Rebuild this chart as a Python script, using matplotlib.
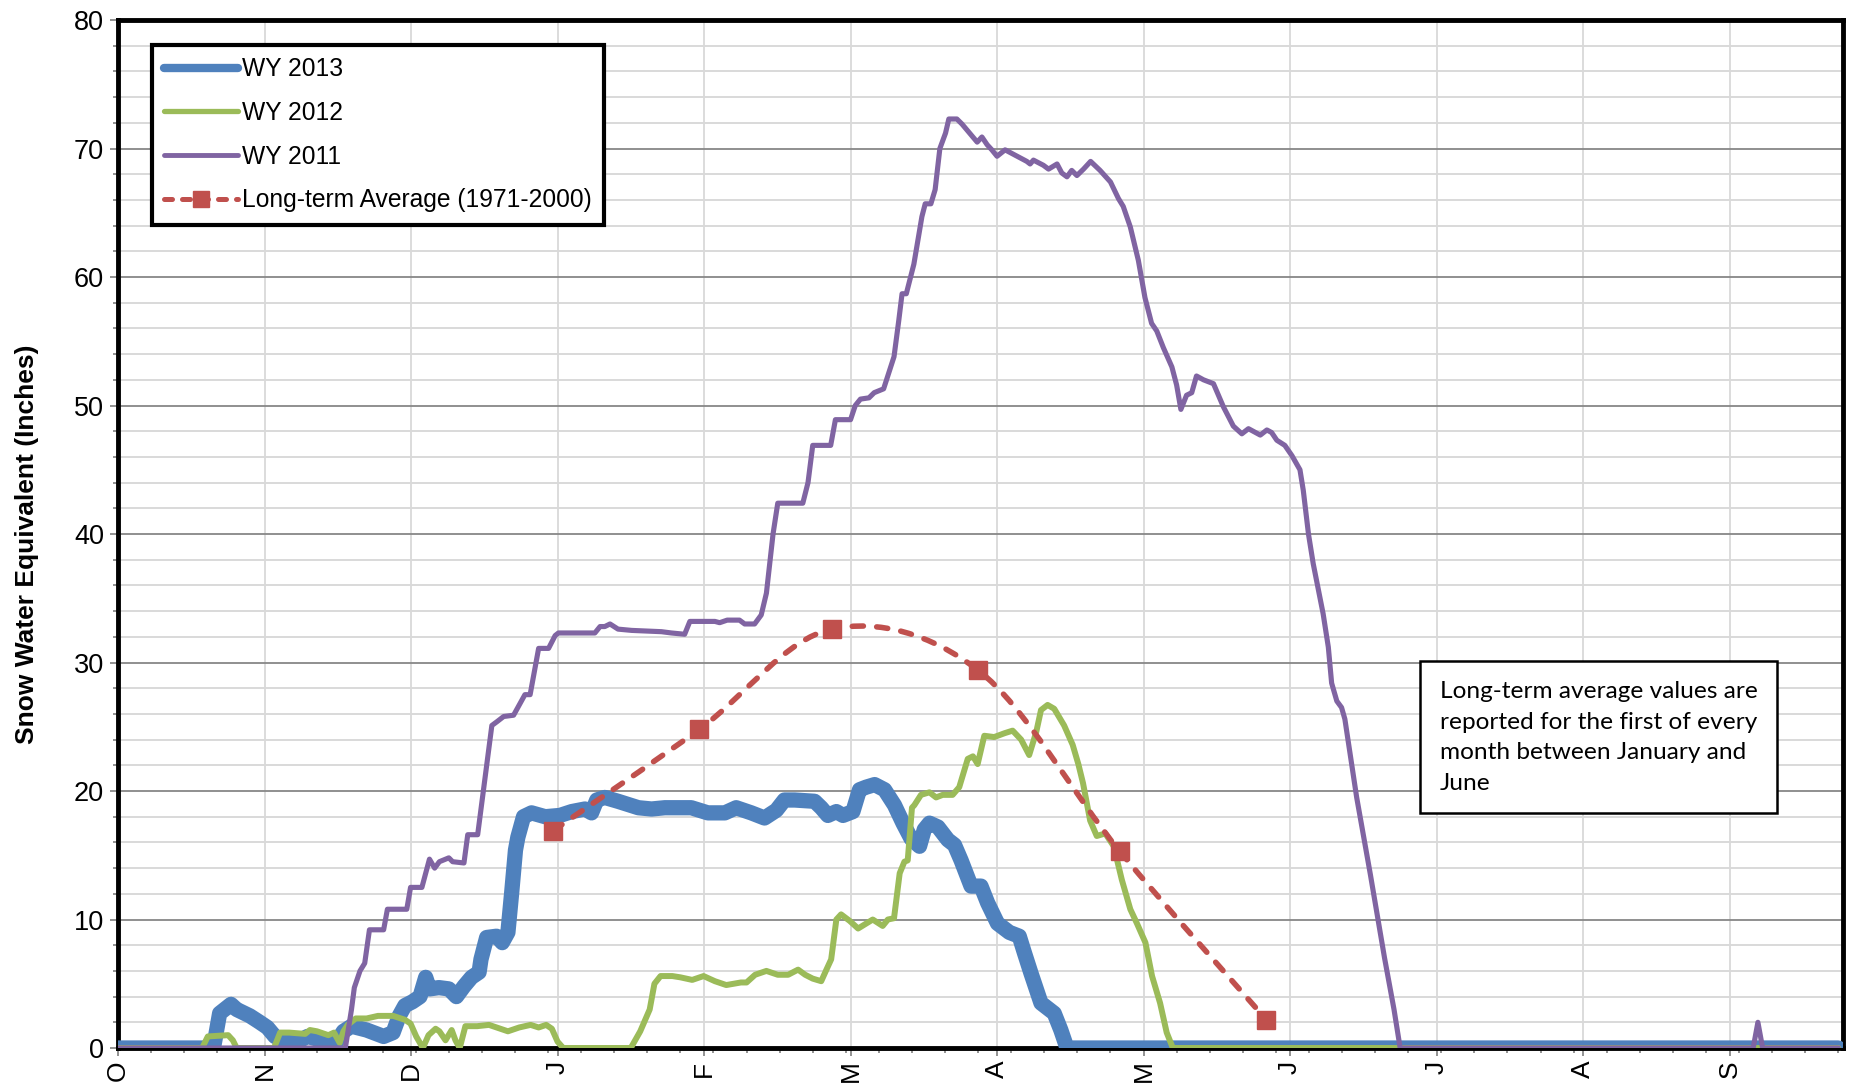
import numpy as np
import matplotlib
matplotlib.use("Agg")
import matplotlib.pyplot as plt
from matplotlib.path import Path
from matplotlib.patches import PathPatch
from matplotlib.lines import Line2D
from matplotlib.ticker import MultipleLocator, FixedLocator

plt.rcParams['font.family'] = ['Liberation Sans', 'DejaVu Sans']

# ---------------- data (x = days since 1 October, start of water year) -----
month_labels = ['O', 'N', 'D', 'J', 'F', 'M', 'A', 'M', 'J', 'J', 'A', 'S']
series_names = ['WY 2013', 'WY 2012', 'WY 2011', 'Long-term Average (1971-2000)']

wy2013_day = [0, 20.2, 21.5, 23.9, 25.1, 27.9, 30.0, 31.6, 33.2, 35.6,
              38.0, 40.1, 42.1, 44.5, 46.1, 47.7, 49.4, 52.6, 56.2, 58.2,
              59.5, 60.7, 62.3, 63.9, 65.1, 65.9, 67.9, 70.0, 71.6, 73.2,
              74.8, 76.4, 76.8, 78.0, 80.1, 81.3, 82.5, 83.3, 84.1, 84.6,
              85.8, 87.5, 90.4, 93.5, 96.0, 98.8, 100.2, 101.3, 103.0, 105.8,
              110.1, 112.9, 115.7, 118.5, 121.3, 124.8, 128.4, 130.8, 134.0, 136.8,
              139.3, 141.0, 143.2, 147.4, 148.8, 150.2, 152.0, 153.4, 155.5, 156.9,
              158.3, 160.1, 162.2, 164.3, 166.1, 167.8, 169.6, 170.6, 171.7, 173.5,
              175.6, 177.0, 178.4, 180.5, 182.6, 184.0, 186.1, 188.6, 190.7, 191.8,
              193.2, 195.3, 196.7, 198.1, 199.5, 200.8, 364]
wy2013_swe = [0, 0, 2.7, 3.4, 3.0, 2.5, 2.0, 1.6, 0.9, 0.5,
              0.5, 0.9, 0.7, 0.5, 0.4, 1.3, 1.7, 1.4, 0.9, 1.2,
              2.5, 3.3, 3.6, 4.0, 5.5, 4.6, 4.7, 4.6, 4.0, 4.8,
              5.5, 5.9, 6.9, 8.6, 8.7, 8.2, 9.0, 12.1, 15.4, 16.4,
              18.0, 18.3, 18.0, 18.1, 18.4, 18.6, 18.3, 19.3, 19.5, 19.2,
              18.7, 18.6, 18.7, 18.7, 18.7, 18.3, 18.3, 18.7, 18.3, 17.9,
              18.5, 19.3, 19.3, 19.2, 18.7, 18.1, 18.4, 18.1, 18.4, 20.1,
              20.3, 20.5, 20.1, 18.9, 17.5, 16.3, 15.7, 17.0, 17.5, 17.2,
              16.2, 15.8, 14.6, 12.6, 12.6, 11.3, 9.7, 9.0, 8.7, 7.4,
              5.8, 3.5, 3.1, 2.7, 1.4, 0.0, 0.0]

wy2012_day = [0, 17.8, 19.0, 23.3, 24.3, 25.1, 33.0, 34.3, 36.2, 39.6,
              40.6, 42.1, 44.5, 45.7, 46.9, 47.7, 48.6, 50.3, 52.6, 55.0,
              58.2, 60.7, 61.9, 63.1, 64.5, 65.7, 67.2, 68.0, 69.3, 70.6,
              71.4, 72.3, 73.5, 76.0, 78.5, 80.1, 82.5, 84.9, 87.3, 89.0,
              90.6, 91.8, 93.0, 94.2, 108.5, 110.5, 112.5, 113.5, 114.8, 117.3,
              119.0, 121.5, 123.9, 126.3, 128.7, 131.8, 133.0, 134.8, 137.2, 139.6,
              141.8, 143.9, 145.4, 147.0, 148.8, 149.9, 150.9, 152.0, 153.0, 154.8,
              156.6, 159.7, 161.8, 162.9, 164.2, 165.4, 166.4, 167.1, 168.0, 168.5,
              169.9, 171.7, 173.1, 174.5, 176.6, 178.0, 179.8, 180.9, 181.9, 183.3,
              185.4, 187.6, 189.3, 191.1, 192.8, 194.3, 195.3, 196.7, 198.1, 200.2,
              202.0, 203.2, 204.2, 205.7, 207.1, 208.9, 210.7, 212.4, 214.2, 215.6,
              217.4, 218.8, 220.5, 221.9, 223.2, 364]
wy2012_swe = [0, 0, 0.9, 1.0, 0.6, 0.0, 0.0, 1.2, 1.2, 1.1,
              1.4, 1.3, 1.0, 1.2, 0.4, 1.3, 1.8, 2.3, 2.3, 2.5,
              2.5, 2.2, 1.9, 0.9, 0.0, 1.0, 1.5, 1.3, 0.6, 1.4,
              0.6, 0.0, 1.7, 1.7, 1.8, 1.6, 1.3, 1.6, 1.8, 1.6,
              1.8, 1.5, 0.5, 0.0, 0.0, 1.3, 3.0, 5.0, 5.6, 5.6,
              5.5, 5.3, 5.6, 5.2, 4.9, 5.1, 5.1, 5.7, 6.0, 5.7,
              5.7, 6.1, 5.7, 5.4, 5.2, 6.1, 6.9, 10.0, 10.4, 9.9,
              9.3, 10.0, 9.5, 10.0, 10.1, 13.6, 14.5, 14.6, 18.7, 18.9,
              19.7, 19.9, 19.5, 19.7, 19.7, 20.3, 22.5, 22.7, 22.1, 24.3,
              24.2, 24.5, 24.7, 24.0, 22.8, 24.6, 26.3, 26.7, 26.4, 25.1,
              23.6, 22.1, 20.6, 17.7, 16.5, 16.7, 15.7, 13.1, 10.8, 9.7,
              8.2, 5.6, 3.5, 1.2, 0.0, 0.0]

wy2011_day = [0, 48.1, 49.4, 50.0, 51.2, 52.2, 53.2, 56.2, 57.0, 61.1,
              61.9, 64.3, 65.9, 67.0, 68.0, 70.0, 70.8, 73.2, 74.0, 76.1,
              79.1, 80.2, 81.6, 83.7, 86.1, 87.2, 89.0, 91.1, 92.5, 93.2,
              100.9, 102.0, 103.0, 104.1, 105.8, 108.7, 115.0, 117.1, 119.9, 121.0,
              126.3, 127.3, 128.9, 131.5, 132.6, 134.7, 136.1, 137.2, 138.6, 139.6,
              144.9, 146.0, 147.0, 150.8, 151.8, 155.0, 156.0, 157.1, 158.9, 160.0,
              162.0, 164.2, 165.2, 165.9, 166.8, 168.4, 170.1, 170.8, 172.0, 172.9,
              173.9, 175.1, 175.8, 177.5, 178.6, 181.8, 182.8, 183.9, 184.9, 186.0,
              187.7, 192.3, 193.0, 193.7, 195.8, 196.9, 198.7, 199.7, 200.8, 201.8,
              202.9, 204.3, 205.8, 207.8, 210.0, 211.7, 212.7, 214.2, 215.9, 217.3,
              218.7, 219.8, 221.2, 223.0, 224.0, 224.9, 226.1, 227.2, 228.2, 229.7,
              231.8, 233.9, 236.0, 237.8, 239.2, 241.7, 243.1, 244.1, 245.2, 246.9,
              248.4, 250.1, 250.8, 251.9, 252.9, 255.0, 256.1, 256.8, 257.9, 258.9,
              259.6, 262.1, 265.0, 268.0, 270.0, 271.3, 346.0, 347.0, 348.0, 364]
wy2011_swe = [0, 0, 3.0, 4.7, 6.0, 6.6, 9.2, 9.2, 10.8, 10.8,
              12.5, 12.5, 14.7, 14.0, 14.5, 14.8, 14.5, 14.4, 16.6, 16.6,
              25.1, 25.4, 25.8, 25.9, 27.5, 27.5, 31.1, 31.1, 32.1, 32.3,
              32.3, 32.8, 32.8, 33.0, 32.6, 32.5, 32.4, 32.3, 32.2, 33.2,
              33.2, 33.1, 33.3, 33.3, 33.0, 33.0, 33.7, 35.4, 40.0, 42.4,
              42.4, 44.0, 46.9, 46.9, 48.9, 48.9, 50.0, 50.5, 50.6, 51.0,
              51.3, 53.8, 56.6, 58.7, 58.7, 61.0, 64.7, 65.7, 65.7, 66.8,
              70.0, 71.2, 72.3, 72.3, 71.9, 70.5, 70.9, 70.3, 69.9, 69.4,
              69.9, 69.0, 68.8, 69.1, 68.7, 68.4, 68.8, 68.1, 67.8, 68.3,
              67.9, 68.4, 69.0, 68.3, 67.4, 66.1, 65.5, 63.9, 61.3, 58.4,
              56.4, 55.8, 54.5, 53.0, 51.6, 49.7, 50.8, 51.0, 52.3, 52.0,
              51.7, 49.9, 48.4, 47.8, 48.2, 47.7, 48.1, 47.9, 47.3, 46.9,
              46.1, 45.0, 43.4, 40.0, 37.7, 33.8, 31.2, 28.4, 27.0, 26.5,
              25.6, 19.5, 13.5, 7.0, 3.0, 0.0, 0.0, 2.0, 0.0, 0.0]

# long-term average: first of Jan, Feb, Mar, Apr, May, Jun
avg_day = [92, 123, 151, 182, 212, 243]
avg_swe = [16.9, 24.8, 32.6, 29.4, 15.3, 2.2]

note_text = ("Long-term average values are\nreported for the first of every\n"
             "month between January and\nJune")

# ---------------- style ----------------------------------------------------
C_BLUE, C_GREEN, C_PURPLE, C_RED = '#4F81BD', '#9BBB59', '#8064A2', '#C0504D'

fig = plt.figure(figsize=(18.5, 10.84), dpi=100)
ax = fig.add_axes([0.0638, 0.0332, 0.9324, 0.9483])

ax.plot(wy2013_day, wy2013_swe, color=C_BLUE, lw=11, zorder=3,
        solid_joinstyle='round', solid_capstyle='round')
ax.plot(wy2012_day, wy2012_swe, color=C_GREEN, lw=4.3, zorder=3.1,
        solid_joinstyle='round', solid_capstyle='round')
ax.plot(wy2011_day, wy2011_swe, color=C_PURPLE, lw=3.7, zorder=3.2,
        solid_joinstyle='round', solid_capstyle='round')

# smoothed (Catmull-Rom / Bezier) line through the average points
P = np.column_stack([avg_day, avg_swe]).astype(float)
verts = [P[0]]
codes = [Path.MOVETO]
n = len(P)
for i in range(n - 1):
    p0 = P[i - 1] if i > 0 else P[i]
    p1, p2 = P[i], P[i + 1]
    p3 = P[i + 2] if i + 2 < n else P[i + 1]
    verts += [p1 + (p2 - p0) / 6.0, p2 - (p3 - p1) / 6.0, p2]
    codes += [Path.CURVE4] * 3
patch = PathPatch(Path(verts, codes), fill=False, edgecolor=C_RED, lw=4.0,
                  linestyle=(0, (2.0, 2.4)), capstyle='round', zorder=4)
ax.add_patch(patch)
ax.plot(avg_day, avg_swe, ls='none', marker='s', ms=13, color=C_RED, zorder=4.1)

# axes
ax.set_xlim(0, 365)
ax.set_ylim(0, 80)
ax.xaxis.set_major_locator(FixedLocator([31 * i for i in range(len(month_labels))]))
ax.xaxis.set_minor_locator(MultipleLocator(7))
ax.set_xticklabels(month_labels, rotation=90, fontsize=19)
ax.yaxis.set_major_locator(MultipleLocator(10))
ax.yaxis.set_minor_locator(MultipleLocator(2))
ax.tick_params(axis='y', which='major', labelsize=19.5, direction='out',
               length=6, width=1.2, color='#7f7f7f', pad=4)
ax.tick_params(axis='y', which='minor', direction='out', length=3.5,
               width=1.2, color='#7f7f7f')
ax.tick_params(axis='x', which='major', direction='out', length=6, width=1.2,
               color='#7f7f7f', pad=3)
ax.tick_params(axis='x', which='minor', direction='out', length=3.5,
               width=1.2, color='#7f7f7f')

ax.set_axisbelow(True)
ax.grid(which='major', axis='y', color='#878787', lw=1.3)
ax.grid(which='minor', axis='y', color='#d9d9d9', lw=1.4)
ax.grid(which='major', axis='x', color='#d9d9d9', lw=1.3)

for s in ax.spines.values():
    s.set_color('black')
    s.set_linewidth(3.5)
    s.set_zorder(2.5)

ax.set_ylabel('Snow Water Equivalent (Inches)', fontsize=19, fontweight='bold')
ax.yaxis.set_label_coords(-0.046, 0.49)

# legend
handles = [
    Line2D([], [], color=C_BLUE, lw=6, solid_capstyle='round'),
    Line2D([], [], color=C_GREEN, lw=3.8, solid_capstyle='round'),
    Line2D([], [], color=C_PURPLE, lw=3.5, solid_capstyle='round'),
    Line2D([], [], color=C_RED, lw=3.6, ls=(0, (1.6, 2.0)), dash_capstyle='round',
           marker='s', ms=12),
]
leg = ax.legend(handles, series_names, loc='upper left',
                bbox_to_anchor=(0.0197, 0.9757), borderaxespad=0,
                fontsize=17.7, frameon=True, fancybox=False, framealpha=1,
                edgecolor='black', handlelength=3.0, handletextpad=0.15,
                labelspacing=0.8, borderpad=0.5, numpoints=1)
leg.get_frame().set_linewidth(3)
leg.set_zorder(10)

# note box
ax.text(0.7664, 0.357, note_text, transform=ax.transAxes, ha='left', va='top',
        fontsize=17.6, family=['Lato', 'DejaVu Sans'], linespacing=1.56, zorder=10,
        bbox=dict(boxstyle='square,pad=0.8', fc='white', ec='black', lw=1.8))

fig.savefig('out.png', dpi=100)
